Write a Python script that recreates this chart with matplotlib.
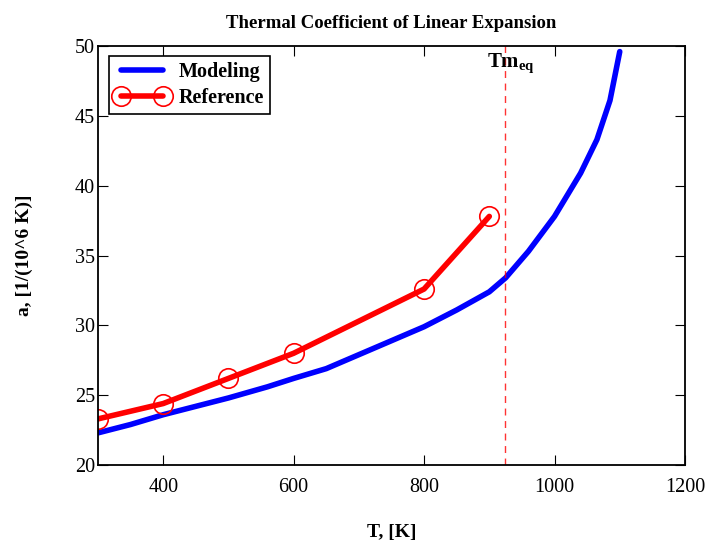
import numpy as np
import matplotlib
matplotlib.use("Agg")
from matplotlib import pyplot as plt

plt.rcParams['font.family'] = ['Liberation Serif', 'DejaVu Serif']
plt.rcParams['mathtext.fontset'] = 'custom'
plt.rcParams['mathtext.rm'] = 'Liberation Serif'
plt.rcParams['mathtext.bf'] = 'Liberation Serif:bold'

# modeling curve
t_model = [300, 350, 400, 450, 500, 560, 600, 650, 700, 750, 800, 850, 900,
           925, 960, 1000, 1040, 1065, 1085, 1100]
a_model = [22.3, 22.9, 23.6, 24.2, 24.8, 25.6, 26.2, 26.9, 27.9, 28.9, 29.9,
           31.1, 32.4, 33.4, 35.3, 37.8, 40.9, 43.3, 46.1, 49.6]

# reference points
t_ref = [300, 400, 500, 600, 800, 900]
a_ref = [23.3, 24.4, 26.2, 28.0, 32.6, 37.8]

tm_eq = 924

fig = plt.figure(figsize=(7.13, 5.47), dpi=100)
ax = fig.add_axes([0.1374, 0.1499, 0.8233, 0.766])

ax.plot(t_model, a_model, color='#0000ff', lw=4, label='Modeling',
        solid_capstyle='round', solid_joinstyle='round')
ax.plot(t_ref, a_ref, color='#ff0000', lw=4, marker='o', ms=14,
        mfc='none', mec='#ff0000', mew=1.2, label='Reference',
        solid_capstyle='round')
ax.axvline(tm_eq, color='#ff0000', lw=1, ls=(0, (5, 4)), alpha=0.8)
ax.text(tm_eq - 28, 48.5, r'$\mathbf{Tm_{eq}}$', fontsize=15)

ax.set_xlim(300, 1200)
ax.set_ylim(20, 50)
ax.set_xticks([400, 600, 800, 1000, 1200])
ax.set_yticks([20, 25, 30, 35, 40, 45, 50])
ax.tick_params(direction='in', length=7, top=True, right=True,
               labelsize=14.5)
ax.tick_params(axis='x', pad=9)
ax.tick_params(axis='y', pad=2)
for s in ax.spines.values():
    s.set_linewidth(1.3)

ax.set_title('Thermal Coefficient of Linear Expansion', fontsize=13.5,
             fontweight='bold', pad=13)
ax.set_xlabel('T, [K]', fontsize=14, fontweight='bold', labelpad=20)
ax.set_ylabel('a, [1/(10^6 K)]', fontsize=14, fontweight='bold', labelpad=30)

leg = ax.legend(loc='upper left', bbox_to_anchor=(0.019, 0.977),
                borderaxespad=0,
                prop={'weight': 'bold', 'size': 14.5}, fancybox=False,
                edgecolor='black', framealpha=1, handlelength=2.7,
                numpoints=2, borderpad=0.3, labelspacing=0.3,
                handletextpad=0.45)
leg.get_frame().set_linewidth(1.2)

plt.savefig('out.png', dpi=100)
